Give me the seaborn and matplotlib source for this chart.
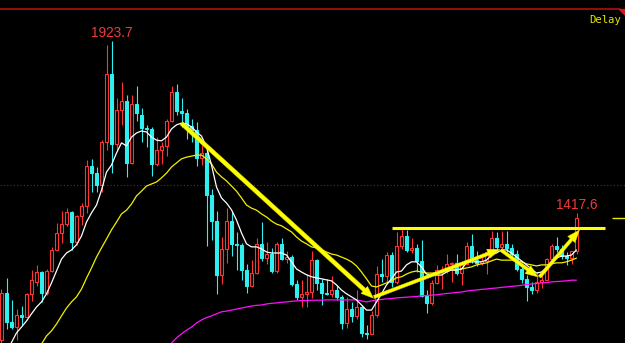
import numpy as np
import pandas as pd
import matplotlib
matplotlib.use("Agg")
import matplotlib.pyplot as plt
from matplotlib.patches import Polygon
import seaborn as sns

# ---------------- data (monthly candles, Nov 2009 .. Jun 2019) ----------------
opens = [1045, 1181, 1097, 1083, 1118, 1113, 1180, 1216, 1245, 1182,
         1248, 1308, 1358, 1386, 1421, 1333, 1410, 1439, 1556, 1536,
         1500, 1628, 1826, 1620, 1722, 1746, 1565, 1738, 1705, 1669,
         1664, 1562, 1604, 1615, 1688, 1773, 1719, 1712, 1675, 1663,
         1579, 1595, 1472, 1393, 1234, 1313, 1395, 1327, 1323, 1250,
         1202, 1240, 1326, 1284, 1296, 1246, 1327, 1282, 1287, 1210,
         1172, 1178, 1184, 1279, 1213, 1183, 1180, 1190, 1172, 1095,
         1134, 1115, 1142, 1065, 1061, 1118, 1238, 1233, 1293, 1215,
         1322, 1351, 1309, 1316, 1275, 1173, 1152, 1211, 1249, 1251,
         1268, 1270, 1242, 1269, 1322, 1280, 1271, 1275, 1303, 1345,
         1318, 1325, 1315, 1298, 1252, 1224, 1201, 1192, 1215, 1222,
         1281, 1321, 1313, 1292, 1284, 1305]
highs = [1195, 1227, 1162, 1135, 1145, 1183, 1249, 1266, 1247, 1253,
         1318, 1387, 1424, 1431, 1424, 1411, 1447, 1575, 1577, 1553,
         1632, 1913, 1923.7, 1755, 1803, 1764, 1764, 1791, 1726, 1677,
         1670, 1641, 1628, 1695, 1790, 1796, 1755, 1725, 1695, 1686,
         1617, 1607, 1487, 1424, 1348, 1433, 1424, 1361, 1329, 1267,
         1280, 1345, 1392, 1331, 1315, 1332, 1345, 1306, 1293, 1222,
         1220, 1238, 1307, 1283, 1224, 1224, 1232, 1205, 1175, 1170,
         1157, 1191, 1147, 1088, 1128, 1263, 1283, 1304, 1304, 1362,
         1375, 1367, 1345, 1326, 1338, 1191, 1220, 1264, 1262, 1296,
         1274, 1296, 1274, 1331, 1357, 1306, 1299, 1307, 1366, 1361,
         1366, 1366, 1326, 1310, 1265, 1235, 1214, 1243, 1237, 1284,
         1326, 1347, 1324, 1302, 1306, 1417.6]
lows = [1033, 1075, 1075, 1045, 1087, 1112, 1160, 1202, 1157, 1175,
        1243, 1308, 1330, 1378, 1309, 1323, 1381, 1418, 1480, 1478,
        1478, 1604, 1535, 1604, 1676, 1523, 1563, 1688, 1627, 1613,
        1527, 1555, 1562, 1586, 1686, 1705, 1672, 1635, 1626, 1555,
        1560, 1321, 1338, 1180, 1208, 1271, 1292, 1251, 1221, 1181,
        1201, 1238, 1277, 1268, 1240, 1240, 1280, 1272, 1204, 1161,
        1142, 1142, 1167, 1191, 1147, 1175, 1170, 1162, 1077, 1080,
        1098, 1106, 1053, 1046, 1061, 1112, 1215, 1215, 1199, 1208,
        1312, 1302, 1300, 1243, 1171, 1123, 1146, 1210, 1195, 1241,
        1214, 1236, 1205, 1267, 1271, 1261, 1265, 1237, 1302, 1307,
        1303, 1302, 1282, 1246, 1211, 1160, 1180, 1183, 1196, 1221,
        1276, 1302, 1281, 1266, 1267, 1296]
closes = [1181, 1097, 1083, 1118, 1113, 1180, 1220, 1245, 1182, 1248,
          1308, 1358, 1386, 1421, 1333, 1410, 1439, 1556, 1536, 1500,
          1628, 1826, 1620, 1722, 1746, 1565, 1738, 1711, 1669, 1664,
          1562, 1604, 1615, 1688, 1773, 1719, 1712, 1675, 1663, 1579,
          1595, 1472, 1393, 1234, 1313, 1395, 1327, 1323, 1250, 1202,
          1240, 1326, 1284, 1296, 1246, 1327, 1282, 1287, 1210, 1172,
          1178, 1184, 1279, 1213, 1183, 1180, 1190, 1172, 1095, 1134,
          1115, 1142, 1065, 1061, 1118, 1238, 1233, 1293, 1215, 1322,
          1351, 1309, 1316, 1275, 1173, 1152, 1211, 1249, 1251, 1268,
          1270, 1242, 1269, 1322, 1280, 1271, 1275, 1303, 1345, 1318,
          1325, 1315, 1298, 1252, 1224, 1201, 1192, 1215, 1222, 1281,
          1321, 1313, 1292, 1284, 1305, 1403]

N = None
ma_white = [N, 1008, 1037, 1065, 1082, 1100, 1121, 1141, 1156, 1180,
            1212, 1247, 1282, 1300, 1309, 1324, 1350, 1391, 1418, 1441,
            1485, 1538, 1559, 1594, 1624, 1615, 1641, 1653, 1659, 1656,
            1641, 1632, 1630, 1641, 1665, 1677, 1682, 1680, 1671, 1656,
            1644, 1612, 1559, 1494, 1462, 1447, 1427, 1397, 1359, 1327,
            1318, 1318, 1312, 1303, 1300, 1300, 1300, 1294, 1274, 1253,
            1244, 1236, 1230, 1227, 1224, 1221, 1218, 1206, 1191, 1180,
            1171, 1162, 1147, 1132, 1132, 1156, 1180, 1206, 1224, 1244,
            1247, 1265, 1274, 1274, 1259, 1238, 1235, 1235, 1235, 1244,
            1250, 1250, 1253, 1271, 1274, 1274, 1274, 1279, 1294, 1300,
            1309, 1309, 1300, 1288, 1277, 1265, 1253, 1241, 1244, 1256,
            1271, 1285, 1291, 1291, 1294, 1309]
ma_yellow = [N, N, N, N, N, N, N, 1005, 1032, 1056,
             1071, 1091, 1115, 1138, 1156, 1171, 1194, 1226, 1256, 1288,
             1315, 1341, 1368, 1391, 1415, 1426, 1444, 1468, 1482, 1497,
             1503, 1509, 1521, 1535, 1553, 1565, 1577, 1582, 1585, 1588,
             1588, 1577, 1562, 1538, 1524, 1512, 1497, 1482, 1462, 1441,
             1432, 1426, 1415, 1406, 1394, 1385, 1380, 1371, 1362, 1347,
             1335, 1327, 1318, 1315, 1309, 1303, 1297, 1294, 1288, 1282,
             1274, 1262, 1244, 1224, 1203, 1200, 1206, 1212, 1218, 1227,
             1230, 1238, 1244, 1247, 1244, 1241, 1241, 1241, 1244, 1247,
             1250, 1250, 1253, 1256, 1259, 1265, 1268, 1271, 1277, 1282,
             1279, 1279, 1279, 1277, 1274, 1268, 1265, 1262, 1265, 1265,
             1268, 1271, 1271, 1274, 1279, 1285]
ma_magenta = [N] * 33 + [
             1020, 1035, 1050, 1062, 1073, 1082, 1094,
             1103, 1110, 1115, 1121, 1127, 1129, 1132, 1135, 1138, 1141,
             1144, 1146, 1147, 1150, 1152, 1153, 1155, 1156, 1158, 1159,
             1160, 1160, 1161, 1161, 1161, 1162, 1162, 1162, 1162, 1162,
             1162, 1162, 1159, 1156, 1159, 1162, 1163, 1165, 1166, 1168,
             1169, 1170, 1171, 1172, 1174, 1175, 1176, 1177, 1179, 1181,
             1182, 1184, 1185, 1188, 1190, 1191, 1193, 1194, 1196, 1197,
             1199, 1200, 1202, 1203, 1205, 1207, 1209, 1210, 1212, 1213,
             1215, 1216, 1217, 1218, 1220, 1220]

grid_price = 1500
resistance = 1374.4
resistance_span = (78.0, 120.7)
arrows = [((36.0, 1681.5), (74.4, 1166.7), 0.30),
          ((74.5, 1170.5), (99.7, 1310.9), 0.24),
          ((99.9, 1308.8), (107.3, 1229.4), 0.24),
          ((107.6, 1229.4), (115.6, 1367.6), 0.24)]

# ---------------- styling ----------------
sns.set_theme(style="dark", rc={"axes.facecolor": "black",
                                "figure.facecolor": "black"})
plt.rcParams["font.family"] = ["Liberation Sans Narrow", "Liberation Sans", "DejaVu Sans"]

RED = "#ff3434"
CYAN = "#2ef0f0"
YEL = "#ffff00"

df = pd.DataFrame({"idx": np.arange(len(opens)), "open": opens, "high": highs,
                   "low": lows, "close": closes,
                   "white": pd.array(ma_white, dtype="Float64"),
                   "yellow": pd.array(ma_yellow, dtype="Float64"),
                   "magenta": pd.array(ma_magenta, dtype="Float64")})
for c in ["white", "yellow", "magenta"]:
    df[c] = df[c].astype(float)

fig = plt.figure(figsize=(6.25, 3.43), dpi=100)
ax = fig.add_axes([0, 0, 1, 1])
ax.set_facecolor("black")
ax.set_xlim(-0.3, 124.7)
ax.set_ylim(1035.2, 2044.3)

# grid line at 1500 (dotted)
ax.axhline(grid_price, color="#a01010", lw=0.8, ls=(0, (1, 2)), zorder=1)

# candles
up = df["close"] >= df["open"]
dn = ~up
body_top = df[["open", "close"]].max(axis=1)
body_bot = df[["open", "close"]].min(axis=1)
ax.vlines(df.idx[up], body_top[up], df.high[up], color=RED, lw=0.8, zorder=2)
ax.vlines(df.idx[up], df.low[up], body_bot[up], color=RED, lw=0.8, zorder=2)
ax.vlines(df.idx[dn], df.low[dn], df.high[dn], color=CYAN, lw=0.8, zorder=2)
ax.bar(df.idx[up], (body_top - body_bot)[up], bottom=body_bot[up], width=0.5,
       facecolor="black", edgecolor=RED, linewidth=0.8, zorder=3)
ax.bar(df.idx[dn], (body_top - body_bot)[dn], bottom=body_bot[dn], width=0.5,
       facecolor=CYAN, edgecolor=CYAN, linewidth=0.8, zorder=3)

# moving averages
for col, colr in [("magenta", "#ff10ff"), ("yellow", "#f0f000"), ("white", "#ffffff")]:
    sub = df.dropna(subset=[col])
    sns.lineplot(data=sub, x="idx", y=col, ax=ax, color=colr, lw=0.9,
                 estimator=None, sort=False, zorder=4)

# resistance line
ax.hlines(resistance, *resistance_span, color=YEL, lw=2.2, zorder=5)

# arrows
for (x0, y0), (x1, y1), tw in arrows:
    ax.annotate("", xy=(x1, y1), xytext=(x0, y0),
                arrowprops=dict(arrowstyle=f"simple,head_length=0.9,head_width=0.7,tail_width={tw}",
                                fc=YEL, ec="#d8d800", lw=0.3, shrinkA=0, shrinkB=0,
                                mutation_scale=10), zorder=6)

# current-price marker at right
ax.hlines(closes[-1], len(closes) + 6.0, 124.7, color="#e8e800", lw=1.0, zorder=5)

# high labels
imax = int(np.argmax(highs))
ax.annotate(f"{highs[imax]}", xy=(imax, highs[imax]), xytext=(0, 2.6),
            textcoords="offset points", ha="center", va="baseline",
            color="#f03a3a", fontsize=9.8, zorder=7)
ilast = len(highs) - 1
ax.annotate(f"{highs[ilast]}", xy=(ilast, highs[ilast]), xytext=(0, 2.9),
            textcoords="offset points", ha="center", va="baseline",
            color="#f03a3a", fontsize=9.8, zorder=7)

# top frame line and corner mark
ax.plot([0, 0.992], [1 - 9.3 / 343] * 2, transform=ax.transAxes,
        color="#c01010", lw=1.1, zorder=7)
ax.add_patch(Polygon([[0.991, 1 - 9 / 343], [1.0, 1 - 9 / 343], [1.0, 1 - 15 / 343]],
                     closed=True, transform=ax.transAxes, color="#d01818", zorder=7))
ax.text(0.994, 1 - 22.7 / 343, "Delay", transform=ax.transAxes, ha="right",
        va="baseline", color="#e6e600", fontsize=7.6,
        family=["DejaVu Sans Mono"], zorder=7)

ax.set_xlabel("")
ax.set_ylabel("")
ax.set_xticks([])
ax.set_yticks([])
for s in ax.spines.values():
    s.set_visible(False)
ax.grid(False)

fig.savefig("out.png", dpi=100, facecolor="black")
